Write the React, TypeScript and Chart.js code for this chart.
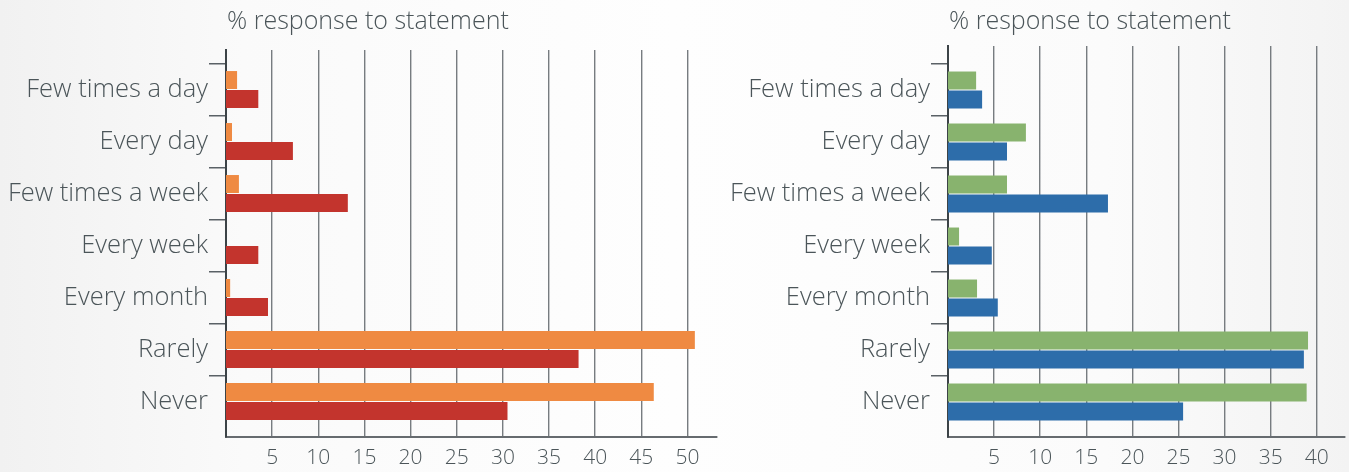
import React, { useEffect, useRef } from 'react';
import { Chart, registerables } from 'chart.js';

Chart.register(...registerables);

const categories = ['Few times a day', 'Every day', 'Few times a week', 'Every week', 'Every month', 'Rarely', 'Never'];
const leftOrange = [1.2, 0.65, 1.4, 0, 0.45, 50.8, 46.35];
const leftRed = [3.5, 7.25, 13.2, 3.5, 4.55, 38.2, 30.5];
const rightGreen = [3.05, 8.45, 6.4, 1.2, 3.15, 39.05, 38.9];
const rightBlue = [3.7, 6.4, 17.35, 4.75, 5.4, 38.6, 25.5];
const leftTicks = [5, 10, 15, 20, 25, 30, 35, 40, 45, 50];
const rightTicks = [5, 10, 15, 20, 25, 30, 35, 40];
const titleText = '% response to statement';

const TEXT = '#4b5559';
const FONT = 'Open Sans';

const titlePlugin = {
  id: 'statementTitle',
  afterDraw(chart: any) {
    const { ctx, chartArea } = chart;
    ctx.save();
    ctx.font = `350 25px "${FONT}"`;
    ctx.fillStyle = TEXT;
    ctx.textBaseline = 'alphabetic';
    ctx.textAlign = 'left';
    ctx.fillText(titleText, chartArea.left + 1, 29);
    ctx.restore();
  },
};

type Cfg = {
  a: number[];
  b: number[];
  ticks: number[];
  colorA: string;
  colorB: string;
  max: number;
  yWidth: number;
  padTop: number;
  padRight: number;
  catPadTop: number;
  catPadBottom: number;
};

function makeConfig(c: Cfg): any {
  return {
    type: 'bar',
    data: {
      labels: categories,
      datasets: [
        { data: c.a, backgroundColor: c.colorA, borderWidth: 0, categoryPercentage: 0.73, barPercentage: 0.947 },
        { data: c.b, backgroundColor: c.colorB, borderWidth: 0, categoryPercentage: 0.73, barPercentage: 0.947 },
      ],
    },
    options: {
      indexAxis: 'y',
      responsive: false,
      animation: false,
      events: [],
      layout: { padding: { top: c.padTop, right: c.padRight, left: 0, bottom: 0 } },
      plugins: { legend: { display: false }, tooltip: { enabled: false }, title: { display: false } },
      scales: {
        x: {
          type: 'linear',
          min: 0,
          max: c.max,
          ticks: {
            color: TEXT,
            font: { family: FONT, size: 21, weight: '350' },
            padding: 8,
            maxRotation: 0,
            autoSkip: false,
          },
          afterBuildTicks: (s: any) => {
            s.ticks = c.ticks.map((v) => ({ value: v }));
          },
          afterFit: (s: any) => {
            s.height = 35;
          },
          grid: { color: '#777c80', lineWidth: 1.4, drawTicks: false },
          border: { color: '#666b6f', width: 2 },
        },
        y: {
          type: 'category',
          afterBuildTicks: (s: any) => {
            s._startValue -= c.catPadTop;
            s._valueRange += c.catPadTop + c.catPadBottom;
          },
          afterFit: (s: any) => {
            s.width = c.yWidth;
          },
          ticks: { color: TEXT, font: { family: FONT, size: 25.5, weight: '350' }, padding: 1, autoSkip: false },
          grid: {
            drawOnChartArea: false,
            drawTicks: true,
            tickLength: 17,
            offset: true,
            lineWidth: 1.5,
            tickColor: (ctx: any) => (ctx.type === 'tick' ? '#5a6166' : 'rgba(0,0,0,0)'),
          },
          border: { color: '#3c4347', width: 2 },
        },
      },
    },
    plugins: [titlePlugin],
  };
}

function BarPanel({ cfg, width, left }: { cfg: Cfg; width: number; left: number }) {
  const ref = useRef<HTMLCanvasElement | null>(null);
  useEffect(() => {
    if (!ref.current) return;
    const chart = new Chart(ref.current, makeConfig(cfg));
    return () => chart.destroy();
  }, []);
  return (
    <canvas
      ref={ref}
      width={width}
      height={472}
      style={{ position: 'absolute', left, top: 0, width, height: 472 }}
    />
  );
}

export default function App() {
  return (
    <div
      style={{
        position: 'fixed',
        left: 0,
        top: 0,
        width: 1349,
        height: 472,
        overflow: 'hidden',
        background: 'linear-gradient(90deg, #f1f1f1 0%, #fafafa 18%, #fefefe 50%, #fbfbfb 82%, #f3f3f3 100%)',
      }}
    >
      <BarPanel
        left={0}
        width={720}
        cfg={{
          a: leftOrange,
          b: leftRed,
          ticks: leftTicks,
          colorA: '#ef8a42',
          colorB: '#c3342d',
          max: 53.2,
          yWidth: 226,
          padTop: 50,
          padRight: 3,
          catPadTop: 0.26,
          catPadBottom: 0.183,
        }}
      />
      <BarPanel
        left={720}
        width={629}
        cfg={{
          a: rightGreen,
          b: rightBlue,
          ticks: rightTicks,
          colorA: '#88b36e',
          colorB: '#2d6daa',
          max: 43.06,
          yWidth: 228,
          padTop: 46,
          padRight: 4,
          catPadTop: 0.346,
          catPadBottom: 0.173,
        }}
      />
    </div>
  );
}
